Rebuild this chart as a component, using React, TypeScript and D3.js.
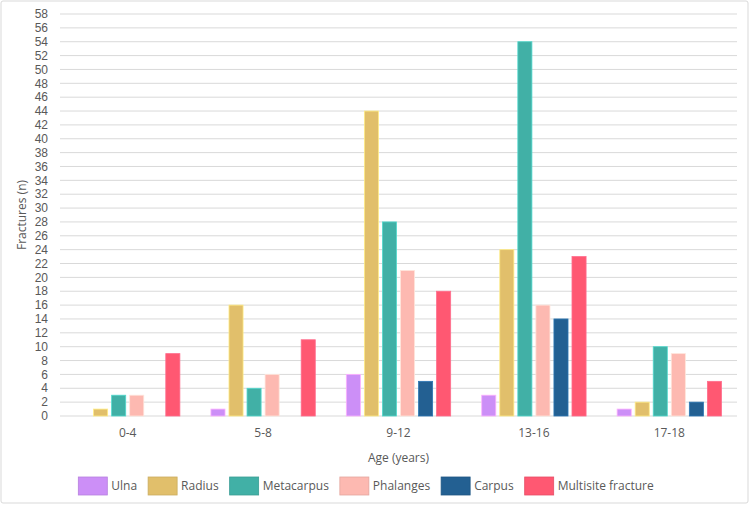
import React from 'react';
import * as d3 from 'd3';

// age groups on the x axis
const ageGroups = ['0-4', '5-8', '9-12', '13-16', '17-18'];
const boneTypes = ['Ulna', 'Radius', 'Metacarpus', 'Phalanges', 'Carpus', 'Multisite fracture'];
const boneColors = ['#CC8FF7', '#E1BF6B', '#41B0A6', '#FDB9B1', '#236092', '#FF5872'];

// fracture counts, one array per bone type, in age group order
const ulna = [0, 1, 6, 3, 1];
const radius = [1, 16, 44, 24, 2];
const metacarpus = [3, 4, 28, 54, 10];
const phalanges = [3, 6, 21, 16, 9];
const carpus = [0, 0, 5, 14, 2];
const multisite = [9, 11, 18, 23, 5];

const yTicks = d3.range(0, 60, 2);

const W = 750;
const H = 505;
const margin = { left: 60, right: 13, top: 14, bottom: 89 };
const FONT = '"Open Sans", sans-serif';
const TICK_FONT = '"Liberation Sans", Arial, sans-serif';
const TEXT = '#595959';
const GRID = '#D9D9D9';

function measure(text: string, size: number) {
    const ctx = document.createElement('canvas').getContext('2d');
    if (!ctx) return text.length * size * 0.5;
    ctx.font = `${size}px "Open Sans"`;
    return ctx.measureText(text).width;
}

export default function App() {
    const series = [ulna, radius, metacarpus, phalanges, carpus, multisite];
    const rows = ageGroups.map((g, i) => ({
        group: g,
        values: boneTypes.map((b, j) => ({ key: b, color: boneColors[j], value: series[j][i] }))
    }));

    const x0 = d3.scaleBand()
        .domain(ageGroups)
        .range([margin.left, W - margin.right])
        .paddingInner(0.2)
        .paddingOuter(0.1);
    const x1 = d3.scaleBand()
        .domain(boneTypes)
        .range([0, x0.bandwidth()])
        .paddingInner(0.22)
        .paddingOuter(0.11);
    const y = d3.scaleLinear().domain([0, 58]).range([H - margin.bottom, margin.top]);

    // legend layout
    const swW = 29, swH = 18, txtGap = 4, itemGap = 11;
    const widths = boneTypes.map((b) => swW + txtGap + measure(b, 12));
    const total = d3.sum(widths) + itemGap * (boneTypes.length - 1);
    let lx = 366 - total / 2;
    const legendItems = boneTypes.map((b, i) => {
        const item = { key: b, color: boneColors[i], x: lx };
        lx += widths[i] + itemGap;
        return item;
    });

    return (
        <svg width={W} height={H} style={{ position: 'absolute', left: 0, top: 0, fontFamily: FONT }}>
            <rect x={1} y={1} width={W - 3} height={H - 3} fill="#fff" stroke={GRID} strokeWidth={1} rx={2} />

            {/* grid + y ticks */}
            {yTicks.map((t) => (
                <g key={t}>
                    <line x1={margin.left} x2={W - margin.right} y1={y(t)} y2={y(t)} stroke={GRID} strokeWidth={1} />
                    <text x={48} y={y(t)} dy="0.35em" textAnchor="end" fontSize={12} fontFamily={TICK_FONT} fill={TEXT}>{t}</text>
                </g>
            ))}

            {/* bars */}
            {rows.map((r) => (
                <g key={r.group} transform={`translate(${x0(r.group)},0)`}>
                    {r.values.filter((v) => v.value > 0).map((v) => (
                        <rect key={v.key}
                            x={x1(v.key)}
                            y={y(v.value)}
                            width={x1.bandwidth()}
                            height={y(0) - y(v.value)}
                            fill={v.color}
                            stroke={d3.color(v.color)!.brighter(0.6).formatHex()}
                            strokeWidth={0.8} />
                    ))}
                </g>
            ))}

            {/* x labels */}
            {ageGroups.map((g) => (
                <text key={g} x={x0(g)! + x0.bandwidth() / 2} y={437} textAnchor="middle" fontSize={12} fill={TEXT}>{g}</text>
            ))}

            <text x={(margin.left + W - margin.right) / 2} y={462} textAnchor="middle" fontSize={12} fill={TEXT}>Age (years)</text>
            <text transform={`translate(26,${(y(0) + y(58)) / 2}) rotate(-90)`} textAnchor="middle" fontSize={12} fill={TEXT}>Fractures (n)</text>

            {/* legend */}
            {legendItems.map((l) => (
                <g key={l.key} transform={`translate(${l.x},477)`}>
                    <rect width={swW} height={swH} fill={l.color} stroke={d3.color(l.color)!.darker(0.3).formatHex()} strokeWidth={0.8} />
                    <text x={swW + txtGap} y={swH / 2} dy="0.35em" fontSize={12} fill={TEXT}>{l.key}</text>
                </g>
            ))}
        </svg>
    );
}
